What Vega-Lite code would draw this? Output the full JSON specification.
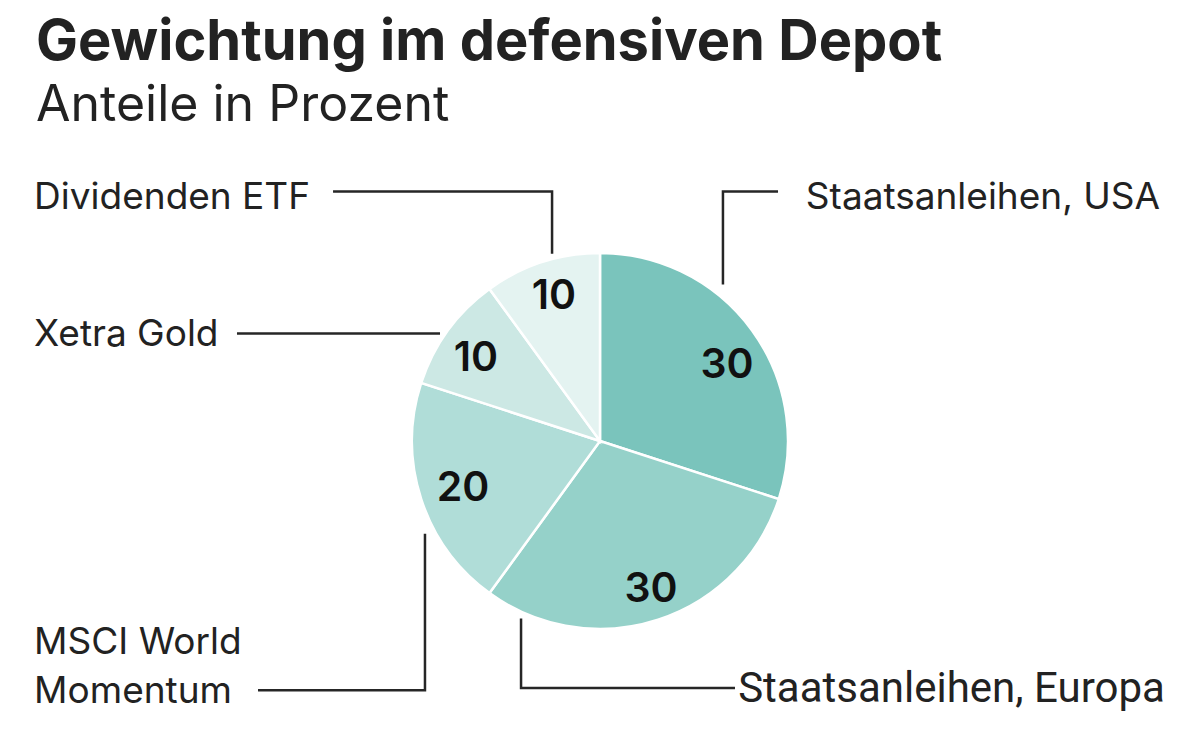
{
  "$schema": "https://vega.github.io/schema/vega-lite/v6.json",
  "width": 1200,
  "height": 740,
  "autosize": {"type": "fit", "contains": "padding"},
  "padding": {"left": 0, "top": 15, "right": 0, "bottom": 0},
  "background": "white",
  "config": {"view": {"stroke": null}, "font": "Inter"},
  "title": {
    "text": "Gewichtung im defensiven Depot",
    "subtitle": "Anteile in Prozent",
    "anchor": "start",
    "dx": 36,
    "font": "Inter",
    "fontSize": 56,
    "fontWeight": 700,
    "color": "#222222",
    "subtitleFont": "Inter",
    "subtitleFontSize": 50,
    "subtitleFontWeight": 400,
    "subtitleColor": "#222222",
    "subtitlePadding": 9,
    "offset": 7
  },
  "datasets": {
    "slices": [
      {"name": "Staatsanleihen, USA", "value": 30, "order": 1},
      {"name": "Staatsanleihen, Europa", "value": 30, "order": 2},
      {"name": "MSCI World Momentum", "value": 20, "order": 3},
      {"name": "Xetra Gold", "value": 10, "order": 4},
      {"name": "Dividenden ETF", "value": 10, "order": 5}
    ],
    "numbers": [
      {"name": "Staatsanleihen, USA", "value": 30, "x": 67.6, "y": 33.5},
      {"name": "Staatsanleihen, Europa", "value": 30, "x": 27.1, "y": -86.2},
      {"name": "MSCI World Momentum", "value": 20, "x": -72.9, "y": -31.9},
      {"name": "Xetra Gold", "value": 10, "x": -66.0, "y": 37.2},
      {"name": "Dividenden ETF", "value": 10, "x": -24.5, "y": 70.7}
    ],
    "leaders": [
      {"id": "Dividenden ETF", "seq": 1, "x": -142.0, "y": 133.2},
      {"id": "Dividenden ETF", "seq": 2, "x": -25.5, "y": 133.2},
      {"id": "Dividenden ETF", "seq": 3, "x": -25.5, "y": 100.0},
      {"id": "Xetra Gold", "seq": 1, "x": -193.1, "y": 57.4},
      {"id": "Xetra Gold", "seq": 2, "x": -85.1, "y": 57.4},
      {"id": "Staatsanleihen, USA", "seq": 1, "x": 94.7, "y": 133.2},
      {"id": "Staatsanleihen, USA", "seq": 2, "x": 65.4, "y": 133.2},
      {"id": "Staatsanleihen, USA", "seq": 3, "x": 65.4, "y": 83.5},
      {"id": "MSCI World Momentum", "seq": 1, "x": -181.9, "y": -133.0},
      {"id": "MSCI World Momentum", "seq": 2, "x": -93.1, "y": -133.0},
      {"id": "MSCI World Momentum", "seq": 3, "x": -93.1, "y": -49.5},
      {"id": "Staatsanleihen, Europa", "seq": 1, "x": -42.0, "y": -94.7},
      {"id": "Staatsanleihen, Europa", "seq": 2, "x": -42.0, "y": -131.9},
      {"id": "Staatsanleihen, Europa", "seq": 3, "x": 71.8, "y": -131.9}
    ],
    "labels": [
      {"id": "Dividenden ETF", "label": "Dividenden ETF", "x": -301.0, "y": 123.9},
      {"id": "Xetra Gold", "label": "Xetra Gold", "x": -301.0, "y": 50.5},
      {"id": "Staatsanleihen, USA", "label": "Staatsanleihen, USA", "x": 109.5, "y": 123.9},
      {"id": "MSCI World Momentum", "label": "MSCI World\nMomentum", "x": -301.0, "y": -113.8},
      {"id": "Staatsanleihen, Europa", "label": "Staatsanleihen, Europa", "x": 73.5, "y": -139.4}
    ]
  },
  "layer": [
    {
      "data": {"name": "slices"},
      "mark": {"type": "arc", "outerRadius": 188, "stroke": "white", "strokeWidth": 2.5},
      "encoding": {
        "theta": {"field": "value", "type": "quantitative", "stack": true},
        "order": {"field": "order", "type": "quantitative"},
        "color": {
          "field": "name",
          "type": "nominal",
          "scale": {
            "domain": ["Staatsanleihen, USA", "Staatsanleihen, Europa", "MSCI World Momentum", "Xetra Gold", "Dividenden ETF"],
            "range": ["#7ac4bc", "#95d1c9", "#b0ddd8", "#cce8e4", "#e4f3f1"]
          },
          "legend": null
        },
        "x": {"datum": 0, "type": "quantitative", "scale": {"domain": [-319.15, 319.15], "nice": false, "zero": false}, "axis": null},
        "y": {"datum": 0, "type": "quantitative", "scale": {"domain": [-159.6, 161.2], "nice": false, "zero": false}, "axis": null}
      }
    },
    {
      "data": {"name": "leaders"},
      "mark": {"type": "line", "color": "#262626", "strokeWidth": 2.5, "strokeJoin": "miter", "strokeCap": "butt"},
      "encoding": {
        "x": {"field": "x", "type": "quantitative"},
        "y": {"field": "y", "type": "quantitative"},
        "detail": {"field": "id"},
        "order": {"field": "seq", "type": "quantitative"}
      }
    },
    {
      "data": {"name": "labels"},
      "transform": [{"filter": "datum.id != 'Staatsanleihen, Europa'"}],
      "mark": {"type": "text", "align": "left", "baseline": "alphabetic", "font": "Inter", "fontSize": 37, "lineBreak": "\n", "lineHeight": 49, "color": "#222222"},
      "encoding": {
        "x": {"field": "x", "type": "quantitative"},
        "y": {"field": "y", "type": "quantitative"},
        "text": {"field": "label"}
      }
    },
    {
      "data": {"name": "labels"},
      "transform": [{"filter": "datum.id == 'Staatsanleihen, Europa'"}],
      "mark": {"type": "text", "align": "left", "baseline": "alphabetic", "font": "Roboto", "fontSize": 42, "color": "#222222"},
      "encoding": {
        "x": {"field": "x", "type": "quantitative"},
        "y": {"field": "y", "type": "quantitative"},
        "text": {"field": "label"}
      }
    },
    {
      "data": {"name": "numbers"},
      "mark": {"type": "text", "align": "center", "baseline": "alphabetic", "font": "Inter", "fontSize": 41, "fontWeight": 600, "color": "#111111"},
      "encoding": {
        "x": {"field": "x", "type": "quantitative"},
        "y": {"field": "y", "type": "quantitative"},
        "text": {"field": "value", "type": "quantitative"}
      }
    }
  ]
}
